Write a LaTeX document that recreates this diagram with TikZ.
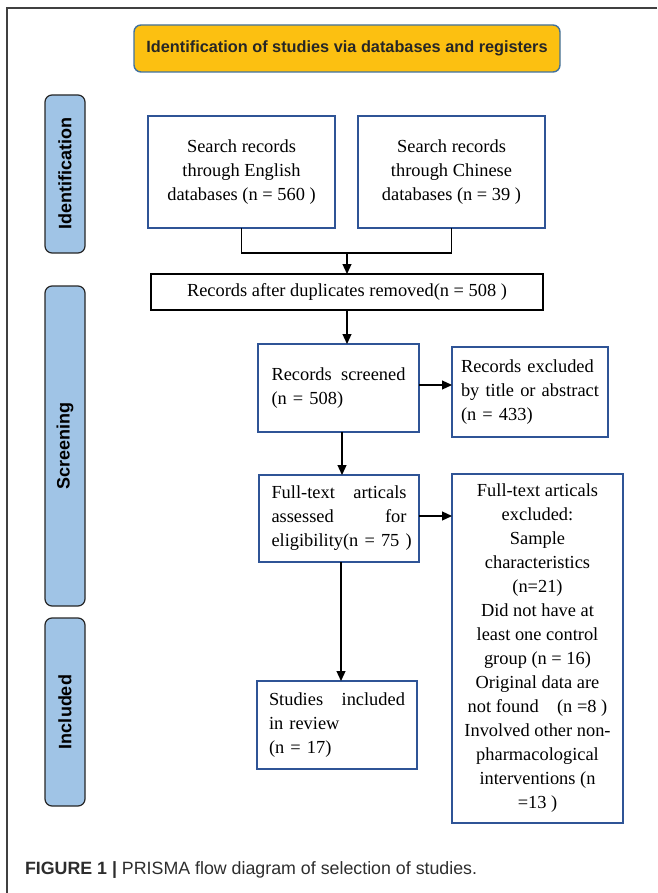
\documentclass[tikz,border=0pt]{standalone}
\usepackage{fontspec}
\setmainfont{Liberation Serif}
\setsansfont{Liberation Sans}
\usepackage{tikz}
\usetikzlibrary{arrows.meta,positioning,calc}
\definecolor{boxblue}{RGB}{47,84,150}
\definecolor{headgold}{RGB}{252,192,17}
\definecolor{headline}{RGB}{65,113,156}
\definecolor{stageblue}{RGB}{160,196,230}
\definecolor{capgray}{RGB}{45,45,45}
\hbadness=10000
\hfuzz=5pt

\begin{document}
\begin{tikzpicture}[x=1pt,y=-1pt,outer sep=0pt]
        \tikzset{bluebox/.style={shape=rectangle,draw=boxblue,line width=1.3pt,inner sep=0pt,minimum width=#1,font=\fontsize{18.4}{24}\selectfont}}
        \tikzset{stagebox/.style={shape=rectangle,rounded corners=7pt,draw=black!85,line width=1.2pt,fill=stageblue,rotate=90,minimum height=40pt,minimum width=#1,font=\sffamily\bfseries\fontsize{18}{20}\selectfont}}
        \tikzset{flowarrow/.style={-{Triangle[length=10pt,width=9pt]},line width=1.2pt}}

        \useasboundingbox (0,0) rectangle (657,893);
        % frame
        \draw[line width=1.6pt,black!75] (657,8) -- (7,8) -- (7,893);

        \node [shape=rectangle,rounded corners=7pt,draw=headline,line width=1.4pt,fill=headgold,minimum width=426pt,minimum height=47pt,font=\sffamily\bfseries\fontsize{16.3}{20}\selectfont,text=black!85] (head) at (347,48.5) {Identification of studies via databases and registers};

        % stages
        \node [stagebox=158pt] (ident) at (65,174) {Identification};
        \node [stagebox=320pt] (screen) at (65,446) {Screening};
        \node [stagebox=188pt] (incl) at (65,712) {Included};

        % flow boxes
        \node [bluebox=187pt,minimum height=112pt,align=center] (english) at (241.5,172) {Search records\\through English\\databases (n = 560 )};
        \node [bluebox=187pt,minimum height=112pt,align=center] (chinese) at (451.5,172) {Search records\\through Chinese\\databases (n = 39 )};
        \node [bluebox=392pt,draw=black,minimum height=36pt] (dup) at (347,292) {Records after duplicates removed(n = 508 )};
        \node [bluebox=161pt,minimum height=88pt,text width=134pt,align=left] (screened) at (338.5,388) {Records\hfill screened\\(n = 508)};
        \node [bluebox=156pt,minimum height=90pt,text width=138pt,align=left] (excl) at (530,392) {Records excluded\\by title or abstract\\(n = 433)};
        \node [bluebox=160pt,minimum height=87pt,text width=135pt,align=left] (fulltext) at (339,518.5) {Full-text\hfill articals\\assessed\hfill for\\\mbox{eligibility(n = 75 )}};
        \node [bluebox=171pt,minimum height=349pt,align=center] (fullexcl) at (537.5,648.5) {Full-text articals\\excluded:\\Sample\\characteristics\\(n=21)\\Did not have at\\least one control\\group (n = 16)\\Original data are\\not found\quad(n =8 )\\Involved other non-\\pharmacological\\interventions (n\\=13 )};
        \node [bluebox=160pt,minimum height=88pt,text width=136pt,align=left] (included) at (337,725) {Studies\hfill included\\in review\\(n = 17)};

        % connectors
        \coordinate (join) at (347,253);
        \draw [line width=1.2pt] (english.south) |- (join) -| (chinese.south);
        \draw [flowarrow] (join) -- (dup.north);
        \draw [flowarrow] (dup.south) -- (dup.south |- screened.north);
        \draw [flowarrow] ([yshift=3pt]screened.east) -- ([yshift=3pt]screened.east -| excl.west);
        \draw [flowarrow] ([xshift=3.5pt]screened.south) -- ([xshift=3.5pt]screened.south |- fulltext.north);
        \draw [flowarrow] ([yshift=2.5pt]fulltext.east) -- ([yshift=2.5pt]fulltext.east -| fullexcl.west);
        \draw [flowarrow] ([xshift=2pt]fulltext.south) -- ([xshift=2pt]fulltext.south |- included.north);

        \node [anchor=west,inner sep=0pt,text=capgray,font=\sffamily\fontsize{17.8}{21}\selectfont] (caption) at (25,870) {\textbf{FIGURE 1 |} PRISMA flow diagram of selection of studies.};
    \end{tikzpicture}
\end{document}
